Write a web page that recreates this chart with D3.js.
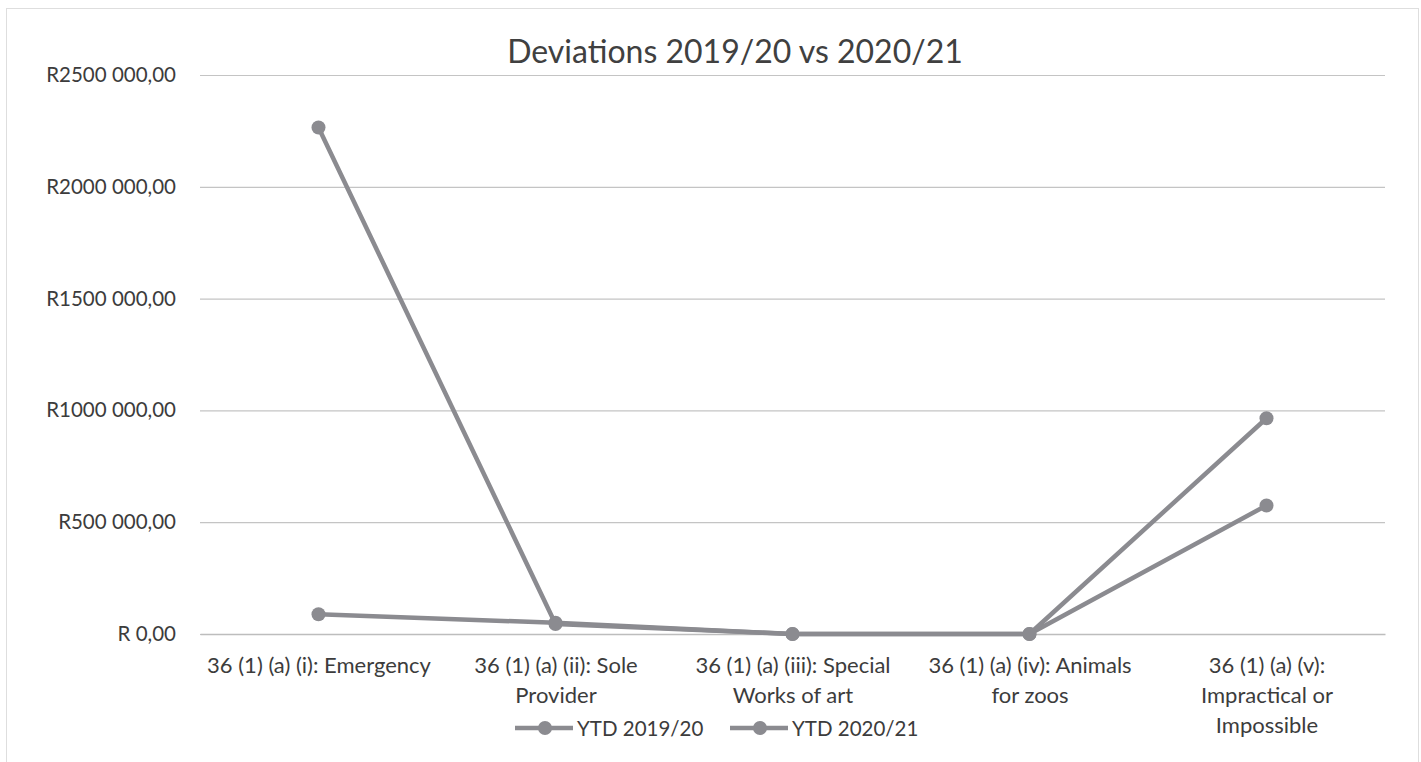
<!DOCTYPE html>
<html><head><meta charset="utf-8">
<script src="https://cdn.jsdelivr.net/npm/d3@7"></script>
<style>body{margin:0;background:#fff}svg{display:block}text{font-family:Lato,"Noto Sans",sans-serif}</style>
</head><body>
<svg id="c" width="1421" height="762"></svg>
<script>
const categories = [
  "36 (1) (a) (i): Emergency",
  "36 (1) (a) (ii): Sole\nProvider",
  "36 (1) (a) (iii): Special\nWorks of art",
  "36 (1) (a) (iv): Animals\nfor zoos",
  "36 (1) (a) (v):\nImpractical or\nImpossible"
];
const seriesNames = ["YTD 2019/20", "YTD 2020/21"];
const ytd2019 = [2265000, 45000, 0, 0, 965000];
const ytd2020 = [88000, 50000, 0, 0, 575000];
const yTicks = [0, 500000, 1000000, 1500000, 2000000, 2500000];
const title = "Deviations 2019/20 vs 2020/21";

const svg = d3.select("#c");
const W = 1421, H = 762;
const m = {left: 200, right: 36, top: 75, bottom: 128};
const x = d3.scalePoint().domain(categories).range([m.left, W - m.right]).padding(0.5);
const y = d3.scaleLinear().domain([0, 2500000]).range([H - m.bottom, m.top]);

svg.append("rect").attr("x", 6.5).attr("y", 8.5).attr("width", 1412).attr("height", 760)
  .attr("fill", "#fff").attr("stroke", "#bdbdbd").attr("stroke-dasharray", "1,1");

const fmt = v => {
  const n = Math.round(v);
  if (n === 0) return "R 0,00";
  const th = Math.floor(n / 1000), rest = n % 1000;
  return "R" + th + " " + String(rest).padStart(3, "0") + ",00";
};

const yAxis = d3.axisLeft(y).tickValues(yTicks).tickSize(-(W - m.right - m.left)).tickFormat(fmt);
const gy = svg.append("g").attr("transform", `translate(${m.left},0)`).call(yAxis);
gy.select(".domain").remove();
gy.selectAll(".tick line").attr("stroke", "#c4c4c4").attr("stroke-width", 1.2);
gy.selectAll(".tick text").attr("x", -24).attr("font-size", 20.5).attr("fill", "#3c3c3c");

const xAxis = d3.axisBottom(x).tickSize(0).tickFormat("");
const gx = svg.append("g").attr("transform", `translate(0,${y(0)})`).call(xAxis);
gx.select(".domain").attr("stroke", "#bdbdbd").attr("stroke-width", 1.5);
gx.selectAll(".tick").each(function(d) {
  const t = d3.select(this).append("text").attr("fill", "#3c3c3c").attr("font-size", 22)
    .attr("text-anchor", "middle");
  d.split("\n").forEach((ln, i) => {
    t.append("tspan").attr("x", 0).attr("y", 39 + i * 30).text(ln);
  });
});

const line = d3.line().x((d, i) => x(categories[i])).y(d => y(d));
const col = "#8b8b90";
[ytd2020, ytd2019].forEach(s => {
  svg.append("path").datum(s).attr("d", line).attr("fill", "none")
    .attr("stroke", col).attr("stroke-width", 4.5).attr("stroke-linejoin", "round");
  svg.selectAll(null).data(s).enter().append("circle")
    .attr("cx", (d, i) => x(categories[i])).attr("cy", d => y(d)).attr("r", 7)
    .attr("fill", col);
});

svg.append("text").attr("x", 735).attr("y", 63).attr("text-anchor", "middle")
  .attr("font-size", 32).attr("fill", "#404040").text(title);

const legX = [515, 730];
seriesNames.forEach((n, i) => {
  const g = svg.append("g").attr("transform", `translate(${legX[i]},728)`);
  g.append("line").attr("x1", 0).attr("x2", 58).attr("stroke", col).attr("stroke-width", 4.5);
  g.append("circle").attr("cx", 30).attr("r", 7).attr("fill", col);
  g.append("text").attr("x", 62).attr("y", 8).attr("font-size", 20.5).attr("fill", "#3c3c3c").text(n);
});
</script>
</body></html>
